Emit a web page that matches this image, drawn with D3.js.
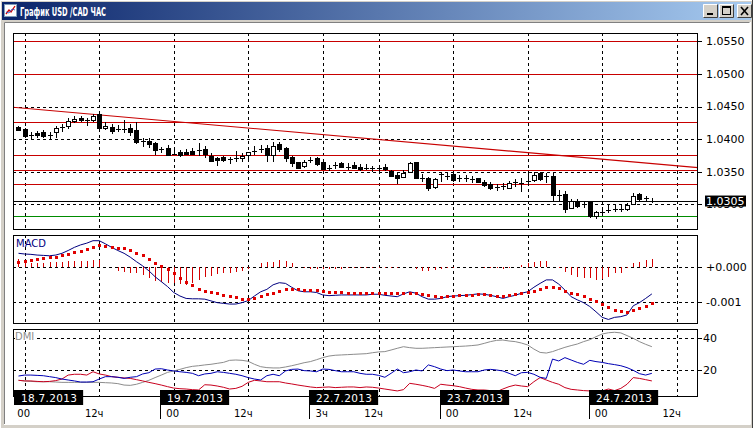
<!DOCTYPE html>
<html><head><meta charset="utf-8">
<script src="https://cdn.jsdelivr.net/npm/d3@7/dist/d3.min.js"></script>
<style>
html,body{margin:0;padding:0;background:#d4d0c8;overflow:hidden}
svg{display:block}
text{font-family:"DejaVu Sans",sans-serif}
</style></head><body>
<svg id="c" width="753" height="428"></svg>
<script>
// ---------------- DATA ----------------
const title = "График USD /CAD  ЧАС";
const opens = [1.04186,1.04155,1.04068,1.04099,1.04114,1.04063,1.04104,1.04180,1.04196,1.04278,
1.04329,1.04288,1.04293,1.04380,1.04175,1.04186,1.04150,1.04160,1.04175,1.04140,
1.03961,1.03976,1.03935,1.03843,1.03858,1.03776,1.03807,1.03807,1.03823,1.03823,
1.03848,1.03746,1.03715,1.03731,1.03690,1.03705,1.03705,1.03756,1.03812,1.03843,
1.03869,1.03756,1.03920,1.03858,1.03731,1.03644,1.03593,1.03674,1.03705,1.03644,
1.03557,1.03593,1.03628,1.03572,1.03603,1.03577,1.03552,1.03552,1.03557,1.03577,
1.03511,1.03449,1.03424,1.03501,1.03644,1.03408,1.03398,1.03270,1.03460,1.03439,
1.03460,1.03398,1.03408,1.03393,1.03398,1.03347,1.03311,1.03270,1.03275,1.03255,
1.03332,1.03317,1.03352,1.03368,1.03475,1.03424,1.03439,1.03143,1.03153,1.02949,
1.03051,1.02995,1.03030,1.02826,1.02882,1.02907,1.02933,1.02928,1.02928,1.03000,
1.03153,1.03087,1.03066];
const highs = [1.04206,1.04175,1.04114,1.04124,1.04135,1.04114,1.04206,1.04227,1.04318,1.04359,
1.04359,1.04329,1.04380,1.04431,1.04267,1.04227,1.04216,1.04293,1.04227,1.04267,
1.04012,1.04022,1.03950,1.03884,1.03910,1.03884,1.03833,1.03843,1.03858,1.03935,
1.03899,1.03782,1.03731,1.03746,1.03731,1.03817,1.03782,1.03807,1.03899,1.03910,
1.03910,1.03961,1.03950,1.03884,1.03746,1.03654,1.03680,1.03731,1.03731,1.03680,
1.03603,1.03654,1.03644,1.03628,1.03644,1.03613,1.03613,1.03593,1.03603,1.03613,
1.03526,1.03501,1.03526,1.03654,1.03654,1.03460,1.03424,1.03408,1.03501,1.03501,
1.03490,1.03449,1.03449,1.03439,1.03408,1.03373,1.03337,1.03306,1.03322,1.03357,
1.03388,1.03398,1.03501,1.03501,1.03501,1.03475,1.03475,1.03219,1.03204,1.03081,
1.03081,1.03041,1.03041,1.02897,1.02928,1.02990,1.03000,1.02990,1.03015,1.03168,
1.03168,1.03133,1.03092];
const lows = [1.04124,1.04037,1.03996,1.04022,1.04012,1.04002,1.04012,1.04104,1.04155,1.04242,
1.04257,1.04206,1.04257,1.04114,1.04140,1.04073,1.04104,1.04089,1.04053,1.03920,
1.03884,1.03869,1.03756,1.03782,1.03756,1.03766,1.03731,1.03756,1.03756,1.03746,
1.03705,1.03644,1.03593,1.03654,1.03623,1.03654,1.03654,1.03680,1.03756,1.03782,
1.03654,1.03654,1.03807,1.03654,1.03577,1.03552,1.03552,1.03628,1.03593,1.03526,
1.03511,1.03541,1.03552,1.03526,1.03541,1.03511,1.03521,1.03501,1.03501,1.03511,
1.03424,1.03306,1.03408,1.03475,1.03388,1.03347,1.03204,1.03235,1.03337,1.03373,
1.03347,1.03337,1.03347,1.03322,1.03322,1.03270,1.03219,1.03204,1.03219,1.03235,
1.03270,1.03184,1.03296,1.03337,1.03357,1.03322,1.03041,1.03041,1.02862,1.02928,
1.02949,1.02938,1.02795,1.02775,1.02846,1.02862,1.02887,1.02877,1.02897,1.02990,
1.03041,1.03051,1.03015];
const closes = [1.04140,1.04053,1.04058,1.04063,1.04053,1.04068,1.04175,1.04186,1.04278,1.04308,
1.04288,1.04293,1.04359,1.04175,1.04201,1.04124,1.04155,1.04165,1.04114,1.03950,
1.03966,1.03925,1.03833,1.03838,1.03761,1.03781,1.03756,1.03772,1.03776,1.03828,
1.03766,1.03669,1.03680,1.03680,1.03695,1.03710,1.03746,1.03797,1.03817,1.03848,
1.03756,1.03899,1.03843,1.03715,1.03628,1.03562,1.03654,1.03680,1.03613,1.03541,
1.03562,1.03598,1.03567,1.03577,1.03562,1.03541,1.03557,1.03557,1.03552,1.03536,
1.03439,1.03408,1.03485,1.03628,1.03398,1.03388,1.03255,1.03388,1.03465,1.03444,
1.03373,1.03403,1.03413,1.03388,1.03337,1.03296,1.03245,1.03275,1.03280,1.03322,
1.03337,1.03322,1.03357,1.03449,1.03388,1.03429,1.03143,1.03148,1.02928,1.03051,
1.02979,1.03000,1.02826,1.02877,1.02887,1.02913,1.02938,1.02933,1.02990,1.03133,
1.03081,1.03092,1.03050];

const priceTicks = [1.0550,1.0500,1.0450,1.0400,1.0350,1.0300];
const redLevels = [1.0550,1.0500,1.04267,1.03756,1.03522,1.03307];
const greenLevel = 1.02821;
const lastPrice = 1.0305;
const trendPoints = [{i:0,p:1.04480},{i:106,p:1.03591}];

const macdMain = [0.00040,0.00038,0.00037,0.00035,0.00034,0.00033,0.00035,0.00040,0.00048,0.00057,
0.00064,0.00069,0.00076,0.00076,0.00067,0.00057,0.00048,0.00040,0.00029,0.00016,
0.00004,-0.00010,-0.00027,-0.00041,-0.00055,-0.00072,-0.00082,-0.00089,-0.00090,-0.00090,
-0.00091,-0.00096,-0.00101,-0.00103,-0.00105,-0.00105,-0.00101,-0.00095,-0.00082,-0.00070,
-0.00063,-0.00050,-0.00044,-0.00046,-0.00057,-0.00067,-0.00070,-0.00070,-0.00072,-0.00079,
-0.00081,-0.00080,-0.00079,-0.00079,-0.00079,-0.00079,-0.00079,-0.00077,-0.00077,-0.00080,
-0.00082,-0.00084,-0.00076,-0.00070,-0.00074,-0.00084,-0.00091,-0.00091,-0.00089,-0.00084,
-0.00082,-0.00081,-0.00080,-0.00078,-0.00076,-0.00077,-0.00080,-0.00084,-0.00089,-0.00084,
-0.00080,-0.00074,-0.00070,-0.00057,-0.00046,-0.00036,-0.00036,-0.00048,-0.00065,-0.00084,
-0.00093,-0.00101,-0.00112,-0.00127,-0.00143,-0.00149,-0.00143,-0.00141,-0.00136,-0.00110,
-0.00101,-0.00089,-0.00076];
const macdSignal = [0.00014,0.00018,0.00021,0.00025,0.00027,0.00029,0.00030,0.00034,0.00038,0.00043,
0.00047,0.00051,0.00059,0.00063,0.00061,0.00059,0.00056,0.00054,0.00050,0.00042,
0.00035,0.00024,0.00013,0.00004,-0.00006,-0.00017,-0.00031,-0.00041,-0.00050,-0.00063,
-0.00067,-0.00071,-0.00074,-0.00079,-0.00082,-0.00086,-0.00090,-0.00091,-0.00087,-0.00082,
-0.00077,-0.00072,-0.00068,-0.00063,-0.00061,-0.00063,-0.00065,-0.00065,-0.00065,-0.00067,
-0.00070,-0.00070,-0.00071,-0.00072,-0.00072,-0.00074,-0.00074,-0.00074,-0.00074,-0.00072,
-0.00072,-0.00074,-0.00074,-0.00072,-0.00073,-0.00076,-0.00080,-0.00083,-0.00084,-0.00083,
-0.00081,-0.00079,-0.00079,-0.00078,-0.00077,-0.00077,-0.00079,-0.00081,-0.00082,-0.00080,
-0.00076,-0.00073,-0.00070,-0.00067,-0.00062,-0.00057,-0.00055,-0.00060,-0.00067,-0.00072,
-0.00076,-0.00082,-0.00090,-0.00097,-0.00105,-0.00114,-0.00121,-0.00125,-0.00127,-0.00122,
-0.00116,-0.00110,-0.00103];
const macdHist = [0.00023,0.00011,0.00011,0.00013,0.00013,0.00014,0.00016,0.00016,0.00018,0.00019,
0.00019,0.00019,0.00021,0.00021,0.00002,0.00000,-0.00010,-0.00012,-0.00015,-0.00017,
-0.00022,-0.00031,-0.00038,-0.00041,-0.00046,-0.00044,-0.00048,-0.00050,-0.00046,-0.00036,
-0.00029,-0.00024,-0.00020,-0.00017,-0.00015,-0.00012,-0.00010,-0.00006,0.00000,0.00011,
0.00014,0.00016,0.00021,0.00019,0.00011,0.00000,-0.00003,-0.00004,-0.00005,-0.00005,
-0.00004,-0.00004,-0.00004,-0.00003,-0.00003,-0.00003,-0.00003,-0.00002,-0.00002,-0.00003,
-0.00003,-0.00002,0.00000,0.00000,-0.00006,-0.00011,-0.00010,-0.00008,-0.00004,-0.00002,
-0.00002,-0.00001,-0.00001,-0.00001,-0.00001,-0.00002,-0.00003,-0.00003,-0.00004,-0.00003,
0.00002,0.00007,0.00011,0.00016,0.00018,0.00019,0.00002,-0.00003,-0.00012,-0.00022,
-0.00027,-0.00031,-0.00031,-0.00036,-0.00034,-0.00027,-0.00017,-0.00015,-0.00003,0.00011,
0.00014,0.00021,0.00023];
const macdTicks = [0, -0.001];
const macdTickLabels = ["+0.000", "-0.001"];

const adx = [13.5,13.1,12.8,12.6,12.6,12.6,12.4,12.2,12.2,12.2,
12.2,12.2,12.2,12.2,12.0,11.8,11.4,10.5,10.3,11.0,
12.2,13.5,15.2,16.8,18.5,19.4,20.4,21.5,22.3,22.7,
23.2,23.6,24.2,24.8,26.1,26.3,26.1,25.5,23.6,22.1,
21.5,21.3,21.3,21.9,22.7,23.6,24.6,25.3,26.5,27.8,
28.8,29.3,29.5,29.7,29.9,30.1,30.3,30.9,31.4,31.6,
32.6,33.7,34.7,34.1,33.7,33.7,33.9,34.1,34.3,34.5,
34.7,34.9,35.1,35.4,35.8,36.8,37.9,38.7,38.9,38.3,
37.9,37.0,35.8,33.2,31.1,30.7,31.6,33.0,34.3,35.4,
36.4,37.9,39.1,41.0,42.7,43.5,43.8,43.4,41.7,40.0,
37.9,36.2,34.7];
const plusDI = [16.2,16.8,16.8,16.6,16.4,15.8,15.2,14.3,13.7,13.1,
12.4,12.4,12.6,14.3,15.8,15.8,15.4,14.7,15.4,15.8,
17.5,18.3,20.6,20.8,20.0,19.4,18.9,18.5,17.9,16.4,
17.5,17.9,18.9,18.5,17.9,17.3,16.4,15.2,14.3,13.7,
16.4,17.3,16.4,19.4,20.4,20.6,19.6,19.4,18.9,20.6,
20.4,19.6,18.9,18.9,18.9,17.9,17.3,17.3,16.6,15.4,
17.9,20.6,18.3,18.9,20.0,19.4,23.2,22.1,20.6,19.6,
20.0,19.4,18.9,18.9,18.9,20.0,20.4,20.0,19.4,17.9,
16.4,18.3,18.5,17.3,15.4,14.7,26.9,25.7,27.8,26.3,
24.8,23.6,26.1,25.3,24.8,24.0,23.4,22.7,21.5,19.8,
17.7,16.8,17.9];
const minusDI = [13.5,13.1,13.1,12.8,12.6,12.8,13.3,14.3,16.8,17.3,
17.3,16.8,18.9,17.5,16.8,15.8,15.4,15.0,14.7,13.9,
13.1,12.2,11.4,10.5,9.5,8.6,8.2,8.0,7.6,7.4,
10.7,10.5,9.9,9.1,8.0,8.4,9.7,12.2,13.5,13.1,
12.6,12.6,12.6,11.8,11.2,10.5,9.9,9.3,8.9,9.1,
9.3,8.9,9.1,9.3,9.3,8.9,9.3,9.1,8.6,8.0,
7.4,6.8,7.6,11.6,11.0,10.3,9.5,8.4,11.0,10.5,
10.1,9.5,8.6,7.8,7.4,7.4,7.0,6.3,8.0,9.5,
10.5,9.9,9.5,12.6,15.2,13.7,12.2,11.0,8.9,7.8,
7.4,7.0,6.8,6.3,6.8,8.0,7.0,8.4,11.0,15.2,
14.7,13.9,13.1];
const dmiTicks = [40, 20];

const gridIdx = [1,13,25,37,49,58,70,82,94,106];
const timeLabels = ["00","12ч","00","12ч","3ч","12ч","00","12ч","00","12ч"];
const dateIdx = [1,25,49,70,94];
const dateLabels = ["18.7.2013","19.7.2013","22.7.2013","23.7.2013","24.7.2013"];

// ---------------- LAYOUT ----------------
const W = 753, H = 428;
const L = 13, R = 698;
const P = {
  main: {top: 33, bottom: 229},
  macd: {top: 235, bottom: 323},
  dmi:  {top: 329, bottom: 396}
};
const svg = d3.select('#c');
const px = v => Math.round(v) + 0.5;

// window chrome
svg.append('rect').attr('width', W).attr('height', H).attr('fill', '#d4d0c8');
svg.append('line').attr('x1',0).attr('x2',W).attr('y1',0.5).attr('y2',0.5).attr('stroke','#ffffff');
svg.append('line').attr('x1',0.5).attr('x2',0.5).attr('y1',0).attr('y2',H).attr('stroke','#ffffff');
svg.append('line').attr('x1',W-0.5).attr('x2',W-0.5).attr('y1',0).attr('y2',H).attr('stroke','#404040');
const defs = svg.append('defs');
const grad = defs.append('linearGradient').attr('id','tb').attr('x1',0).attr('x2',1).attr('y1',0).attr('y2',0);
grad.append('stop').attr('offset','0%').attr('stop-color','#0a246a');
grad.append('stop').attr('offset','100%').attr('stop-color','#a6caf0');
svg.append('rect').attr('x',2).attr('y',2).attr('width',W-4).attr('height',18).attr('fill','url(#tb)');

// icon
const ic = svg.append('g');
ic.append('rect').attr('x',4.5).attr('y',4.5).attr('width',12).attr('height',12).attr('fill','#ffffff').attr('stroke','#7f9db9');
ic.append('polyline').attr('points','6,14 9,10 11,12 15,6').attr('fill','none').attr('stroke','#d00000').attr('stroke-width',1.3);
ic.append('polyline').attr('points','6,12 9,13 12,9 15,10').attr('fill','none').attr('stroke','#3050c0').attr('stroke-width',0.8);

svg.append('text').attr('x', 20).attr('y', 15.5)
  .attr('fill','#ffffff').attr('font-weight','bold').attr('font-size', 11.5)
  .attr('textLength', 86).attr('lengthAdjust','spacingAndGlyphs')
  .text(title);

// caption buttons
const btnX = [703, 719, 737];
btnX.forEach((bx, k) => {
  const g = svg.append('g');
  g.append('rect').attr('x', bx).attr('y', 4).attr('width', 15).attr('height', 14).attr('fill', '#d4d0c8');
  g.append('path').attr('d', `M${bx+0.5},${17.5}V${4.5}H${bx+14.5}`).attr('stroke','#ffffff').attr('fill','none');
  g.append('path').attr('d', `M${bx+0.5},${17.5}H${bx+14.5}V${4.5}`).attr('stroke','#404040').attr('fill','none');
  if (k === 0) g.append('rect').attr('x', bx+4).attr('y', 13).attr('width', 6).attr('height', 2).attr('fill','#000');
  if (k === 1) {
    g.append('rect').attr('x', bx+3.5).attr('y', 6.5).attr('width', 8).attr('height', 8).attr('fill','none').attr('stroke','#000');
    g.append('line').attr('x1', bx+3.5).attr('x2', bx+11.5).attr('y1', 7.5).attr('y2', 7.5).attr('stroke','#000');
  }
  if (k === 2) {
    g.append('path').attr('d', `M${bx+4},${7}L${bx+11},${15}M${bx+11},${7}L${bx+4},${15}`).attr('stroke','#000').attr('stroke-width',1.6);
  }
});

// client area (sunken)
svg.append('rect').attr('x', 4).attr('y', 22).attr('width', 746).attr('height', 403).attr('fill', '#ffffff');
svg.append('path').attr('d','M4.5,424V22.5H749.5').attr('stroke','#808080').attr('fill','none');
svg.append('path').attr('d','M4.5,424.5H750.5V22').attr('stroke','#ffffff').attr('fill','none');

// ---------------- SCALES ----------------
const x = d3.scaleLinear().domain([1, 106]).range([24.7, 676.7]);
const yP = d3.scaleLinear().domain([1.0300, 1.0550]).range([204.3, 41.3]);
const yM = d3.scaleLinear().domain([-0.001, 0]).range([302.3, 267.3]);
const yD = d3.scaleLinear().domain([20, 40]).range([370, 338.3]);

Object.entries(P).forEach(([k, p]) => {
  defs.append('clipPath').attr('id', 'clip-' + k)
    .append('rect').attr('x', L).attr('y', p.top).attr('width', R - L).attr('height', p.bottom - p.top);
});

const dash = '3,3';
function vgrid(g, p) {
  gridIdx.forEach(i => {
    g.append('line').attr('x1', px(x(i))).attr('x2', px(x(i))).attr('y1', p.top).attr('y2', p.bottom)
      .attr('stroke', '#000').attr('stroke-dasharray', dash);
  });
}
function hgrid(g, ys) {
  ys.forEach(y => {
    g.append('line').attr('x1', L).attr('x2', R).attr('y1', px(y)).attr('y2', px(y))
      .attr('stroke', '#000').attr('stroke-dasharray', dash);
  });
}
function rightLabels(vals, labels, scale, lx) {
  vals.forEach((v, k) => {
    svg.append('line').attr('x1', R).attr('x2', R + 4).attr('y1', px(scale(v))).attr('y2', px(scale(v))).attr('stroke', '#000');
    svg.append('text').attr('x', lx).attr('y', scale(v)).attr('dy', '0.36em')
      .attr('font-size', 11).attr('fill', '#000').text(labels[k]);
  });
}

// ---------------- MAIN PANEL ----------------
const gm = svg.append('g').attr('clip-path', 'url(#clip-main)');
vgrid(gm, P.main);
hgrid(gm, priceTicks.map(yP));
redLevels.forEach(v => {
  gm.append('line').attr('x1', L).attr('x2', R).attr('y1', px(yP(v))).attr('y2', px(yP(v)))
    .attr('stroke', '#c80000').attr('stroke-width', 1);
});
gm.append('line').attr('x1', L).attr('x2', R).attr('y1', px(yP(greenLevel))).attr('y2', px(yP(greenLevel)))
  .attr('stroke', '#008c00');
gm.append('line').attr('x1', L).attr('x2', R).attr('y1', px(yP(lastPrice))).attr('y2', px(yP(lastPrice)))
  .attr('stroke', '#000');
// trend line across the panel
const tSlope = (trendPoints[1].p - trendPoints[0].p) / (trendPoints[1].i - trendPoints[0].i);
const iL = x.invert(L), iR = x.invert(R);
gm.append('line')
  .attr('x1', L).attr('y1', yP(trendPoints[0].p + tSlope * (iL - trendPoints[0].i)))
  .attr('x2', R).attr('y2', yP(trendPoints[0].p + tSlope * (iR - trendPoints[0].i)))
  .attr('stroke', '#c80000').attr('stroke-width', 1.1);

// candles
opens.forEach((o, i) => {
  const cx = px(x(i));
  const c = closes[i];
  gm.append('line').attr('x1', cx).attr('x2', cx).attr('y1', yP(highs[i])).attr('y2', yP(lows[i]))
    .attr('stroke', '#000').attr('shape-rendering', 'crispEdges');
  const yo = yP(o), yc = yP(c);
  if (Math.abs(yo - yc) < 1.5) {
    const yy = px((yo + yc) / 2);
    gm.append('line').attr('x1', cx - 2.5).attr('x2', cx + 2.5).attr('y1', yy).attr('y2', yy)
      .attr('stroke', '#000').attr('shape-rendering', 'crispEdges');
  } else {
    const top = Math.round(Math.min(yo, yc)), bot = Math.round(Math.max(yo, yc));
    gm.append('rect').attr('x', cx - 2).attr('y', top + 0.5).attr('width', 4).attr('height', Math.max(1, bot - top))
      .attr('fill', c > o ? '#ffffff' : '#000000').attr('stroke', '#000').attr('shape-rendering', 'crispEdges');
  }
});
svg.append('rect').attr('x', L + 0.5).attr('y', P.main.top + 0.5).attr('width', R - L - 1).attr('height', P.main.bottom - P.main.top)
  .attr('fill', 'none').attr('stroke', '#000');
rightLabels(priceTicks, priceTicks.map(d => d3.format('.4f')(d)), yP, 706);
// current price tag
svg.append('rect').attr('x', 705).attr('y', yP(lastPrice) - 5.5).attr('width', 41).attr('height', 11).attr('fill', '#000');
svg.append('text').attr('x', 706).attr('y', yP(lastPrice)).attr('dy', '0.36em').attr('font-size', 11)
  .attr('fill', '#fff').text(d3.format('.4f')(lastPrice));

// ---------------- MACD PANEL ----------------
const gma = svg.append('g').attr('clip-path', 'url(#clip-macd)');
vgrid(gma, P.macd);
hgrid(gma, macdTicks.map(yM));
macdHist.forEach((h, i) => {
  if (Math.abs(yM(h) - yM(0)) < 0.5) return;
  gma.append('line').attr('x1', px(x(i))).attr('x2', px(x(i))).attr('y1', yM(0)).attr('y2', yM(h))
    .attr('stroke', '#d40000').attr('shape-rendering', 'crispEdges');
});
gma.append('path').datum(macdMain)
  .attr('d', d3.line().x((d, i) => x(i)).y(d => yM(d)))
  .attr('fill', 'none').attr('stroke', '#000080').attr('stroke-width', 1);
macdSignal.forEach((s, i) => {
  gma.append('rect').attr('x', Math.round(x(i)) - 1).attr('y', Math.round(yM(s)) - 1).attr('width', 3).attr('height', 3)
    .attr('fill', '#e00000');
});
svg.append('rect').attr('x', L + 0.5).attr('y', P.macd.top + 0.5).attr('width', R - L - 1).attr('height', P.macd.bottom - P.macd.top)
  .attr('fill', 'none').attr('stroke', '#000');
svg.append('text').attr('x', 16).attr('y', 247).attr('font-size', 10).attr('fill', '#000080').text('MACD');
rightLabels(macdTicks, macdTickLabels, yM, 706);

// ---------------- DMI PANEL ----------------
const gd = svg.append('g').attr('clip-path', 'url(#clip-dmi)');
vgrid(gd, P.dmi);
hgrid(gd, dmiTicks.map(yD));
const dl = d3.line().x((d, i) => x(i)).y(d => yD(d));
gd.append('path').datum(adx).attr('d', dl).attr('fill', 'none').attr('stroke', '#8c8c8c');
gd.append('path').datum(minusDI).attr('d', dl).attr('fill', 'none').attr('stroke', '#c8001e');
gd.append('path').datum(plusDI).attr('d', dl).attr('fill', 'none').attr('stroke', '#0000b4');
svg.append('rect').attr('x', L + 0.5).attr('y', P.dmi.top + 0.5).attr('width', R - L - 1).attr('height', P.dmi.bottom - P.dmi.top)
  .attr('fill', 'none').attr('stroke', '#000');
svg.append('rect').attr('x', 15).attr('y', 332).attr('width', 22).attr('height', 9).attr('fill', '#fff');
svg.append('text').attr('x', 15).attr('y', 340).attr('font-size', 10).attr('fill', '#8c8c8c').text('DMI');
rightLabels(dmiTicks, dmiTicks.map(String), yD, 703);

// ---------------- TIME AXIS ----------------
gridIdx.forEach((i, k) => {
  const t = timeLabels[k];
  const off = t.length > 2 ? -5 : -1;
  svg.append('text').attr('x', x(i) + off).attr('y', 417).attr('text-anchor', 'middle')
    .attr('font-size', 10).attr('fill', '#000').text(t);
});
dateIdx.forEach((i, k) => {
  const bx = Math.max(14, Math.round(x(i) - 13.4));
  const g = svg.append('g');
  const r = g.append('rect').attr('x', bx).attr('y', 390).attr('height', 15).attr('fill', '#000');
  const tx = g.append('text').attr('x', bx + 7).attr('y', 401.5).attr('font-size', 10.5)
    .attr('fill', '#fff').attr('letter-spacing', 0.3).text(dateLabels[k]);
  const w = tx.node().getComputedTextLength();
  r.attr('width', w + 13);
  if (k > 0) svg.append('line').attr('x1', bx + 0.5).attr('x2', bx + 0.5).attr('y1', 390).attr('y2', 419).attr('stroke', '#000');
});
</script>
</body></html>
